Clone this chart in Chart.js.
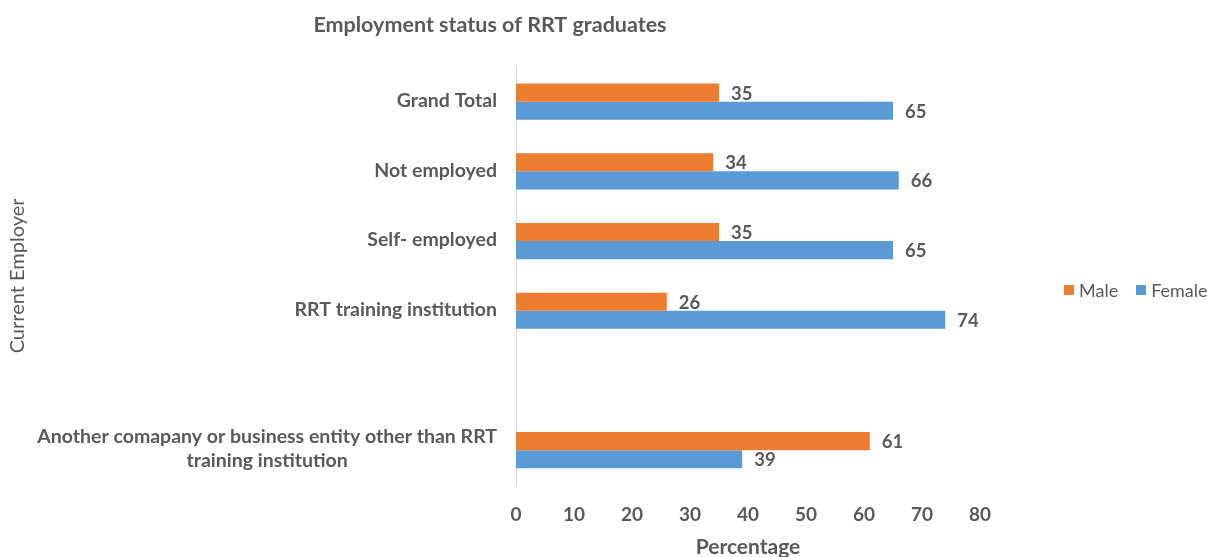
<!DOCTYPE html>
<html>
<head>
<meta charset="utf-8">
<script src="https://cdn.jsdelivr.net/npm/chart.js@4"></script>
<style>
    html, body { margin: 0; padding: 0; background: #ffffff; }
    #wrap { position: relative; width: 1210px; height: 557px; }
    #legend {
        position: absolute; left: 1064px; top: 279px;
        font-family: Lato, "Noto Sans", sans-serif; font-size: 18px; color: #595959;
        display: flex; align-items: center; white-space: nowrap;
    }
    #legend span.box { display: inline-block; width: 10px; height: 10px; margin-right: 5px; }
    #legend span.item { display: inline-flex; align-items: center; margin-right: 18px; }
</style>
</head>
<body>
<div id="wrap">
    <canvas id="employChart" width="1210" height="557"></canvas>
    <div id="legend"></div>
</div>
<script>
// categories, top to bottom (the empty one leaves the gap before the last row)
var categories = [
    "Grand Total",
    "Not employed",
    "Self- employed",
    "RRT training institution",
    "",
    ["Another comapany or business entity other than RRT", "training institution"]
];
var maleValues = [35, 34, 35, 26, null, 61];
var femaleValues = [65, 66, 65, 74, null, 39];
var xTicks = [0, 10, 20, 30, 40, 50, 60, 70, 80];

var textColor = "#595959";
var fontFamily = "Lato, 'Noto Sans', sans-serif";

// value labels just past the end of each bar
var barLabels = {
    id: "barLabels",
    afterDatasetsDraw: function (chart) {
        var ctx = chart.ctx;
        ctx.save();
        ctx.font = "bold 18.5px " + fontFamily;
        ctx.fillStyle = textColor;
        ctx.textAlign = "left";
        ctx.textBaseline = "middle";
        chart.data.datasets.forEach(function (ds, i) {
            var meta = chart.getDatasetMeta(i);
            meta.data.forEach(function (bar, j) {
                var v = ds.data[j];
                if (v === null || v === undefined) return;
                ctx.fillText(String(v), bar.x + 12, bar.y + 1);
            });
        });
        ctx.restore();
    }
};

// category labels: right aligned against the axis, wrapped lines centred on each other
var categoryLabels = {
    id: "categoryLabels",
    afterDraw: function (chart) {
        var scale = chart.scales.y;
        var ctx = chart.ctx;
        var right = scale.right - 19;
        var lineH = 24;
        ctx.save();
        ctx.font = "bold 19.5px " + fontFamily;
        ctx.fillStyle = textColor;
        ctx.textBaseline = "middle";
        categories.forEach(function (label, i) {
            var y = scale.getPixelForTick(i) - 1;
            var lines = Array.isArray(label) ? label : [label];
            var w = Math.max.apply(null, lines.map(function (l) { return ctx.measureText(l).width; }));
            var cx = right - w / 2;
            ctx.textAlign = "center";
            lines.forEach(function (l, k) {
                var ly = y + (k - (lines.length - 1) / 2) * lineH;
                ctx.fillText(l, cx, ly);
            });
        });
        ctx.restore();
    }
};

var ctx = document.getElementById("employChart").getContext("2d");
var chart = new Chart(ctx, {
    type: "bar",
    data: {
        labels: categories,
        datasets: [
            { label: "Male", data: maleValues, backgroundColor: "#ED7D31" },
            { label: "Female", data: femaleValues, backgroundColor: "#5B9BD5" }
        ]
    },
    options: {
        indexAxis: "y",
        responsive: false,
        animation: false,
        categoryPercentage: 0.52,
        barPercentage: 1.0,
        layout: { padding: { left: 0, right: 230, top: 0, bottom: 0 } },
        scales: {
            x: {
                min: 0,
                max: 80,
                afterBuildTicks: function (scale) {
                    scale.ticks = xTicks.map(function (v) { return { value: v }; });
                },
                afterFit: function (scale) { scale.height = 72; },
                grid: { display: false, drawTicks: false },
                border: { display: false },
                ticks: {
                    color: textColor,
                    padding: 18,
                    font: { family: fontFamily, size: 19, weight: "bold" }
                },
                title: {
                    display: true,
                    text: "Percentage",
                    color: textColor,
                    padding: { top: 0, bottom: -3 },
                    font: { family: fontFamily, size: 21, weight: "bold" }
                }
            },
            y: {
                grid: { display: false, drawTicks: false },
                border: { display: true, color: "#d9d9d9", width: 1 },
                ticks: { display: false },
                afterFit: function (scale) { scale.width = 516; },
                title: {
                    display: true,
                    text: "Current Employer",
                    color: textColor,
                    padding: { top: 6, bottom: 0 },
                    font: { family: fontFamily, size: 20, weight: "normal" }
                }
            }
        },
        plugins: {
            legend: { display: false },
            tooltip: { enabled: false },
            title: {
                display: true,
                text: "Employment status of RRT graduates",
                color: textColor,
                padding: { top: 12, bottom: 29 },
                font: { family: fontFamily, size: 21.5, weight: "bold" }
            }
        }
    },
    plugins: [barLabels, categoryLabels]
});

// legend in a single row to the right of the plot
var legendEl = document.getElementById("legend");
chart.data.datasets.forEach(function (ds) {
    var item = document.createElement("span");
    item.className = "item";
    var box = document.createElement("span");
    box.className = "box";
    box.style.background = ds.backgroundColor;
    item.appendChild(box);
    item.appendChild(document.createTextNode(ds.label));
    legendEl.appendChild(item);
});
</script>
</body>
</html>
